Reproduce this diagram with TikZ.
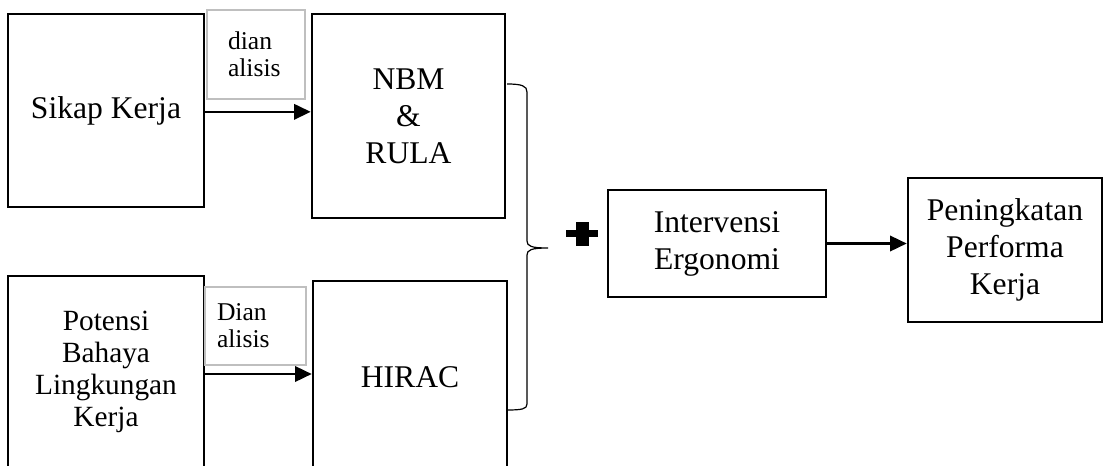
\documentclass[tikz,border=0pt]{standalone}
\usepackage{fontspec}
\setmainfont{Liberation Serif}
\usetikzlibrary{arrows.meta,positioning,calc}

\begin{document}
\begin{tikzpicture}[
  x=0.75pt, y=-0.75pt,
  box/.style={draw, line width=1.9pt, fill=white, font=\fontsize{23.7}{27.75}\selectfont, align=center, inner sep=2pt},
  boxTight/.style={box, font=\fontsize{22}{24}\selectfont},
  note/.style={draw=black!25, line width=1.4pt, fill=white, font=\fontsize{19.2}{20.25}\selectfont, align=left, inner ysep=2pt},
  arrow/.style={-{Triangle[length=12.5pt,width=11.5pt]}, line width=1.9pt},
  brace/.style={line width=0.9pt},
]
\clip (0,0) rectangle (1104,465);

% --- Upper row ---
\node[box, minimum width=147pt, minimum height=144.75pt] (sikap) at (106,110.5) {Sikap Kerja};
\node[note, minimum width=73.5pt, minimum height=66.75pt, text width=42pt, inner xsep=15.75pt] (note1) at (256,54.5) {dian\\alisis};
\node[box, minimum width=144.75pt, minimum height=153pt] (nbm) at (408.5,116) {NBM\\\&\\RULA};

% --- Lower row ---
\node[boxTight, minimum width=147pt, minimum height=144pt] (potensi) at (106,372) {Potensi\\Bahaya\\Lingkungan\\Kerja};
\node[note, minimum width=75.75pt, minimum height=58.5pt, text width=57.75pt, inner xsep=9pt] (note2) at (255.5,326) {Dian\\alisis};
\node[box, minimum width=145.5pt, minimum height=144pt] (hirac) at (410,377) {HIRAC};

% --- Right part ---
\node[box, minimum width=163.5pt, minimum height=80.25pt] (interv) at (717,243.5) {Intervensi\\Ergonomi};
\node[box, minimum width=145.5pt, minimum height=108pt] (pening) at (1005,250) {Peningkatan\\Performa\\Kerja};

% connectors
\draw[arrow] ([yshift=-1pt]sikap.east) -- ([yshift=-1pt]sikap.east -| nbm.west);
\draw[arrow] ([yshift=-1.5pt]potensi.east) -- ([yshift=-1.5pt]potensi.east -| hirac.west);
\draw[arrow] (interv.east) -- (interv.east -| pening.west);

% brace and plus sign
\coordinate (braceTop) at (507,84);
\coordinate (braceTip) at (548,248);
\coordinate (braceBot) at (507,410);
\draw[brace] (braceTop) .. controls (522,84) and (527,86) .. (527,92) -- (527,241)
  .. controls (527,246) and (531,248) .. (braceTip)
  .. controls (531,248) and (527,250) .. (527,255) -- (527,404)
  .. controls (527,409) and (522,410) .. (braceBot);
\fill (566,230) rectangle (598,237);
\fill (576,222) rectangle (589,246);

\end{tikzpicture}
\end{document}
